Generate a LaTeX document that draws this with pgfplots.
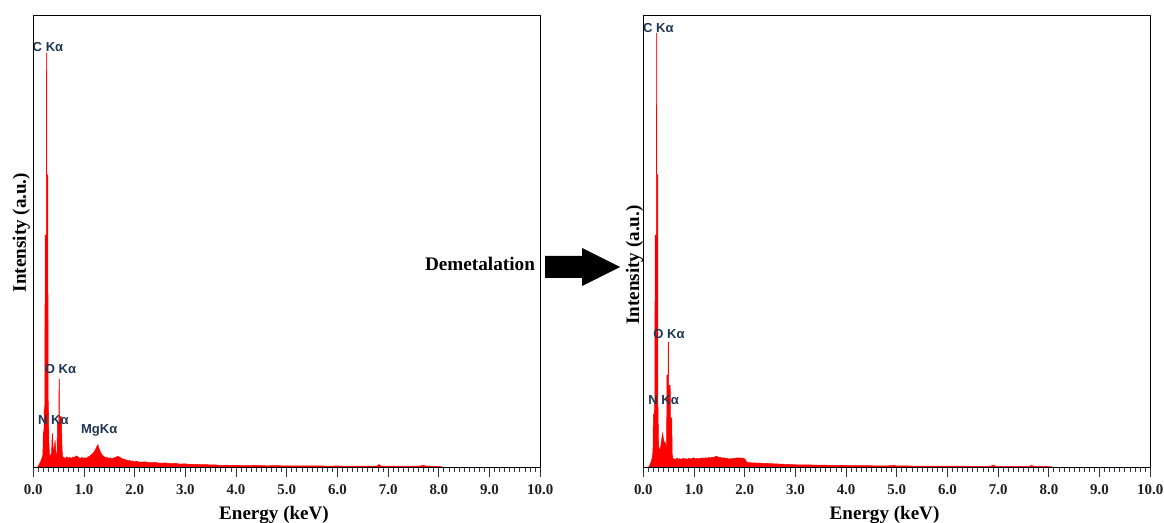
\documentclass[border=0pt]{standalone}
\usepackage{fontspec}
\setmainfont{Liberation Serif}
\newfontfamily\lsans{Liberation Sans}
\usepackage{pgfplots}
\pgfplotsset{compat=1.18}
\definecolor{lbl}{RGB}{30,55,85}
\definecolor{tk}{RGB}{45,55,70}
\pgfplotsset{
  eds/.style={
    anchor=south west,
    scale only axis,
    width=380.2pt, height=338.8pt,
    xmin=0, xmax=10, ymin=0, ymax=100,
    ytick=\empty,
    xtick={0,1,2,3,4,5,6,7,8,9,10},
    minor x tick num=9,
    xtick pos=bottom,
    tick align=outside,
    major tick length=6.75pt,
    minor tick length=3.4pt,
    every tick/.style={tk, line width=0.7pt},
    axis line style={black, line width=0.8pt},
    axis on top=true,
    clip=false,
    xticklabel style={font=\fontsize{11.2}{13}\selectfont\bfseries, text=black!88, yshift=-2.5pt},
    /pgf/number format/fixed,
    /pgf/number format/fixed zerofill,
    /pgf/number format/precision=1,
    /pgf/number format/assume math mode=true,
  },
}
\tikzset{elab/.style={font=\lsans\bfseries\fontsize{9.8}{12}\selectfont, text=lbl, inner sep=0pt, anchor=center}}
\begin{document}
\begin{tikzpicture}
\useasboundingbox (0,0) rectangle (873pt,391.5pt);
% ---------------- left spectrum ----------------
\begin{axis}[eds, at={(24.975pt,40.725pt)}]
\addplot[draw=red, fill=red, line width=0.4pt] coordinates {
(0,0) (0.08,0) (0.10,0.4) (0.12,0.8) (0.14,1.2) (0.16,1.8) (0.18,2.4) (0.19,3.0)
(0.195,6.5) (0.20,7.6) (0.21,7.0) (0.215,12.8) (0.225,12.8) (0.23,16.6)
(0.232,51.5) (0.258,51.5) (0.261,91.8) (0.266,91.8) (0.268,64.8) (0.288,64.8)
(0.291,16.6) (0.30,12) (0.31,5) (0.32,2.8) (0.34,2.6) (0.36,3.2) (0.37,6.5) (0.38,7.6)
(0.39,4.5) (0.40,3.5) (0.42,5.0) (0.43,6.1) (0.44,4.0) (0.45,3.2) (0.47,3.0)
(0.475,9.9) (0.505,9.9) (0.508,19.6) (0.512,19.6) (0.515,11.3) (0.555,11.3) (0.565,5) (0.575,2.4)
(0.60,2.3) (0.63,2.0) (0.66,2.4) (0.69,2.1) (0.72,2.3) (0.75,2.0) (0.78,2.4) (0.81,2.2)
(0.84,2.6) (0.87,2.5) (0.90,2.2) (0.93,2.0) (0.96,2.3) (0.99,2.0) (1.02,2.2) (1.05,2.1)
(1.08,2.4) (1.11,2.5) (1.14,2.8) (1.17,3.1) (1.20,3.5) (1.23,4.1) (1.26,4.8) (1.275,5.1)
(1.29,4.4) (1.31,3.9) (1.33,3.3) (1.36,2.8) (1.39,2.5) (1.42,2.2) (1.45,2.3) (1.48,2.0)
(1.51,2.2) (1.54,2.0) (1.57,2.1) (1.60,2.2) (1.63,2.3) (1.66,2.5) (1.69,2.4) (1.72,2.2)
(1.75,2.0) (1.78,1.9) (1.81,1.8) (1.84,1.7) (1.87,1.5) (1.90,1.6) (1.93,1.4) (1.96,1.5)
(1.99,1.3) (2.05,1.4) (2.1,1.2) (2.2,1.3) (2.3,1.1) (2.4,1.15) (2.5,1.0) (2.6,1.05)
(2.7,0.9) (2.8,0.95) (2.9,0.8) (3.0,0.85) (3.1,0.7) (3.2,0.75) (3.3,0.65) (3.4,0.7)
(3.5,0.6) (3.6,0.6) (3.7,0.5) (3.8,0.55) (3.9,0.5) (4.0,0.5) (4.2,0.45) (4.4,0.5)
(4.6,0.42) (4.8,0.45) (5.0,0.4) (5.2,0.42) (5.4,0.38) (5.6,0.4) (5.8,0.36) (6.0,0.38)
(6.2,0.35) (6.4,0.36) (6.6,0.34) (6.78,0.35) (6.82,0.7) (6.86,0.35) (7.0,0.33) (7.2,0.32)
(7.4,0.32) (7.6,0.33) (7.7,0.5) (7.75,0.35) (7.9,0.3) (8.05,0.25) (8.07,0) (10,0)
};
\node[elab] at (axis cs:0.29,93.2) {C K\char"03B1};
\node[elab] at (axis cs:0.537,21.85) {O K\char"03B1};
\node[elab] at (axis cs:0.395,10.56) {N K\char"03B1};
\node[elab] at (axis cs:1.30,8.2) {MgK\char"03B1};
\end{axis}
% ---------------- right spectrum ----------------
\begin{axis}[eds, at={(482.5pt,40.725pt)}]
\addplot[draw=red, fill=red, line width=0.4pt] coordinates {
(0,0) (0.10,0) (0.12,0.4) (0.14,0.9) (0.16,1.5) (0.18,2.5) (0.19,3.5)
(0.195,9) (0.20,11.5) (0.21,12) (0.22,12.5) (0.228,16)
(0.232,51.5) (0.258,51.5) (0.261,96.2) (0.266,96.2) (0.268,64.8) (0.285,64.8)
(0.288,14) (0.30,5) (0.32,3.6) (0.34,4.5) (0.36,6.0) (0.38,7.6) (0.40,6.2) (0.42,5.2)
(0.43,5.6) (0.45,4.4) (0.46,4.6) (0.465,20.5) (0.49,20.5) (0.492,27.8) (0.496,27.8)
(0.499,18.2) (0.53,18.2) (0.535,11) (0.56,11) (0.57,3) (0.58,2.1)
(0.60,2.0) (0.63,1.8) (0.66,2.1) (0.69,1.9) (0.72,2.0) (0.75,1.8) (0.78,2.1) (0.81,1.9)
(0.84,2.0) (0.87,1.8) (0.90,2.1) (0.93,1.9) (0.96,2.0) (0.99,2.2) (1.02,1.9) (1.05,2.1)
(1.08,1.9) (1.11,2.1) (1.14,2.0) (1.17,2.2) (1.20,2.0) (1.23,2.2) (1.26,2.1) (1.29,2.3)
(1.32,2.1) (1.35,2.3) (1.38,2.2) (1.41,2.4) (1.44,2.5) (1.47,2.4) (1.50,2.2) (1.53,2.3)
(1.56,2.1) (1.59,2.2) (1.62,2.0) (1.65,2.1) (1.68,1.9) (1.71,2.0) (1.74,1.9) (1.77,2.1)
(1.80,2.0) (1.83,2.1) (1.86,2.2) (1.89,2.1) (1.92,2.2) (1.95,2.0) (1.98,2.1) (2.01,1.8)
(2.04,1.2) (2.1,1.1) (2.2,1.05) (2.3,1.0) (2.4,0.95) (2.5,0.9) (2.6,0.85) (2.7,0.8)
(2.8,0.75) (2.9,0.7) (3.0,0.65) (3.2,0.62) (3.4,0.58) (3.6,0.55) (3.8,0.5) (4.0,0.48)
(4.2,0.45) (4.4,0.44) (4.6,0.42) (4.8,0.4) (4.95,0.5) (5.0,0.38) (5.2,0.38) (5.4,0.36)
(5.6,0.35) (5.8,0.34) (6.0,0.33) (6.2,0.32) (6.4,0.32) (6.6,0.31) (6.85,0.32) (6.9,0.6)
(6.95,0.32) (7.1,0.3) (7.3,0.3) (7.5,0.3) (7.62,0.3) (7.66,0.55) (7.7,0.3) (7.9,0.28)
(8.05,0.22) (8.07,0) (10,0)
};
\node[elab] at (axis cs:0.296,97.3) {C K\char"03B1};
\node[elab] at (axis cs:0.507,29.6) {O K\char"03B1};
\node[elab] at (axis cs:0.40,14.99) {N K\char"03B1};
\end{axis}
% ---------------- labels, arrow ----------------
\def\labfont{\fontsize{14.3}{17}\selectfont\bfseries}
\node[rotate=90, anchor=base, inner sep=0pt, font=\labfont] at (19.5pt,217.1pt) {Intensity (a.u.)};
\node[rotate=90, anchor=base, inner sep=0pt, font=\labfont] at (479.25pt,192.75pt) {Intensity (a.u.)};
\node[anchor=base, inner sep=0pt, font=\labfont] at (205.5pt,2.0pt) {Energy (keV)};
\node[anchor=base, inner sep=0pt, font=\labfont] at (663.4pt,2.0pt) {Energy (keV)};
\node[anchor=base, inner sep=0pt, font=\fontsize{14.4}{17}\selectfont\bfseries] at (360pt,188.25pt) {Demetalation};
\fill[black] (408.75pt,199.5pt) -- (436.5pt,199.5pt) -- (436.5pt,205.5pt) -- (465pt,191.25pt)
  -- (436.5pt,177pt) -- (436.5pt,183pt) -- (408.75pt,183pt) -- cycle;
\end{tikzpicture}
\end{document}
